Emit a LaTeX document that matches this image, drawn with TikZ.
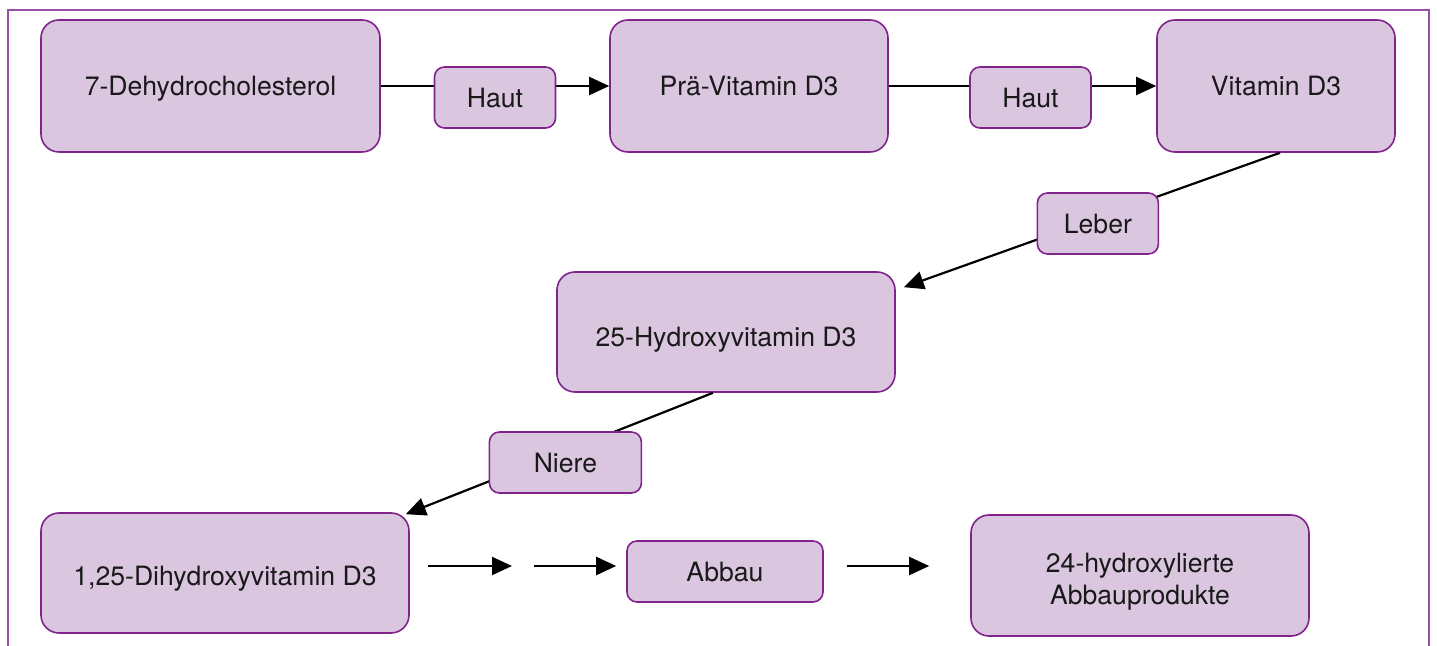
\documentclass[tikz,border=0pt]{standalone}
\usepackage{fontspec}
\setmainfont{TeX Gyre Heros}
\usepackage{tikz}
\usetikzlibrary{arrows.meta,shapes,positioning}
\definecolor{boxfill}{RGB}{219,198,224}
\definecolor{boxline}{RGB}{128,36,140}
\definecolor{framecol}{RGB}{150,80,165}

\begin{document}
\begin{tikzpicture}[x=0.5pt,y=-0.5pt]
    \tikzset{vertex/.style = {shape=rectangle,rounded corners=9pt,draw=boxline,line width=0.8pt,fill=boxfill,align=center,inner sep=0pt,minimum height=66pt,text height=9.6pt,text depth=0pt,font=\fontsize{13.3}{16}\selectfont,text=black!90}}
    \tikzset{organ/.style = {vertex,rounded corners=5pt,minimum height=30.5pt}}
    \tikzset{edge/.style = {-{Triangle[length=10pt,width=9pt]},line width=1.1pt}}
    \useasboundingbox (0,0) rectangle (1437,646);
    \draw[framecol,line width=1pt] (8,646) -- (8,10) -- (1429,10) -- (1429,646);
    % vertices
    \node[vertex,minimum width=169.5pt] (1) at (210.5,86) {7-Dehydrocholesterol};
    \node[vertex,minimum width=139pt] (2) at (749,86) {Prä-Vitamin D3};
    \node[vertex,minimum width=119pt] (3) at (1276,86) {Vitamin D3};
    \node[vertex,minimum width=169pt,minimum height=60pt,text height=14.6pt] (4) at (726,332) {25-Hydroxyvitamin D3};
    \node[vertex,minimum width=184pt,minimum height=60pt,text height=12.6pt] (5) at (225,573) {1,25-Dihydroxyvitamin D3};
    \node[organ,minimum width=98pt] (6) at (725,571.5) {Abbau};
    \node[vertex,minimum width=169pt,minimum height=60.5pt,text height=29.1pt,text depth=0pt] (7) at (1140,575.5) {24-hydroxylierte\\ Abbauprodukte};
    \coordinate (8) at (512,566);
    \coordinate (9) at (534,566);
    % edges
    \draw[edge] (1) -- (2) node[organ,midway,yshift=-5.75pt,minimum width=60.5pt] (h1) {Haut};
    \draw[edge] (2) -- (3) node[organ,pos=0.53,yshift=-5.75pt,minimum width=60.5pt] (h2) {Haut};
    \draw[edge] ([xshift=2pt]3.south) -- ([shift={(8,16)}]4.north east) node[organ,midway,xshift=3pt,yshift=-1.75pt,minimum width=60.5pt] (l) {Leber};
    \draw[edge] ([xshift=-6.5pt]4.south) -- ([shift={(-4,2)}]5.north east) node[organ,midway,xshift=3pt,yshift=-4.5pt,minimum width=76pt] (n) {Niere};
    \draw[edge,shorten <=9pt] (5.east |- 8) -- (8);
    \draw[edge,shorten >=5pt] (9) -- (6.west |- 9);
    \draw[edge,shorten <=11.5pt,shorten >=20.5pt] (6.east |- 9) -- (7.west |- 9);
\end{tikzpicture}
\end{document}
